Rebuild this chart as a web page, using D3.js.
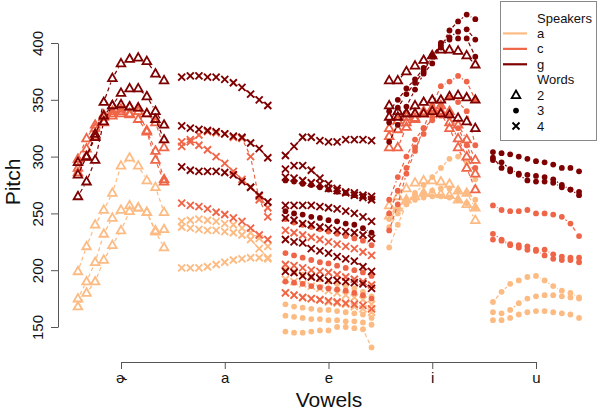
<!DOCTYPE html>
<html><head><meta charset="utf-8">
<script src="https://cdn.jsdelivr.net/npm/d3@7"></script>
<style>body{margin:0;background:#fff}svg{display:block}text{font-family:"Liberation Sans",Arial,sans-serif}</style>
</head><body><svg id="c" width="600" height="412"></svg>
<script>
// ---- data ----
const vowels = ["ɚ","a","e","i","u"];
const speakers = ["a","c","g"];
const speakerColors = ["#FDBB84","#EF6548","#7F0000"];
const words = ["2","3","4"];
const yTicks = [150,200,250,300,350,400];

// vowel ɚ, word 2
const schwa_a_2 = [
 [199,221,240,253,268,292,299,292,279,273,251],
 [175,190,207,232,246,253,257,255,251,235,236],
 [168,180,190,209,222,235,252,255,251,234,220]];
const schwa_c_2 = [
 [298,316,328,337,340,342,344,340,323,305,280],
 [290,307,325,335,338,340,338,333,322,297,278],
 [286,300,318,330,336,338,337,343,338,330,308]];
const schwa_g_2 = [
 [284,300,317,348,369,382,386,387,384,373,367],
 [265,278,297,331,345,356,360,360,353,340,328],
 [295,300,320,336,345,346,344,343,338,333,315]];
// vowel a, word 4
const a_a_4 = [
 [243,244,245,244,243,241,240,237,233,228,221],
 [238,237,236,235,235,234,233,231,227,219,211],
 [202,202,202,203,205,207,209,210,211,211,210]];
const a_c_4 = [
 [313,315,310,306,300,294,287,280,273,265,255],
 [309,313,319,322,321,320,317,316,300,262,247],
 [259,257,256,254,251,249,246,243,237,231,227]];
const a_g_4 = [
 [370,371,371,370,370,368,365,361,355,350,345],
 [327,325,324,323,322,320,318,317,312,307,299],
 [291,288,287,287,287,286,284,278,273,266,260]];
// vowel e, words 3 and 4
const e_a_3 = [
 [146,145,145,146,147,147,150,150,149,148,132],
 [170,168,167,166,165,165,164,163,162,161,158],
 [160,159,158,157,157,156,156,155,155,154,152],
 [200,198,196,194,192,190,188,186,184,181,177]];
const e_a_4 = [
 [180,178,176,175,174,172,171,170,168,166,163],
 [192,190,188,186,184,182,180,178,176,174,170]];
const e_c_3 = [
 [245,242,240,238,236,234,232,230,228,226,222],
 [215,213,211,209,207,206,204,202,200,198,195],
 [190,189,188,186,185,184,183,182,180,178,175]];
const e_c_4 = [
 [235,233,231,229,227,225,223,221,219,216,213],
 [205,204,202,200,199,198,196,194,192,190,187],
 [180,178,176,175,174,173,172,171,170,169,166]];
const e_g_3 = [
 [279,278,276,275,273,271,269,268,266,265,263],
 [252,250,249,247,246,244,243,241,240,237,233]];
const e_g_4 = [
 [301,309,317,317,314,313,313,315,315,315,314],
 [289,292,292,288,281,276,272,269,268,266,265],
 [282,281,279,277,276,272,270,268,266,264,262],
 [257,257,257,257,256,255,254,252,250,247,243],
 [246,244,241,240,238,237,235,234,233,231,228],
 [227,225,224,219,217,215,212,210,208,203,199],
 [199,198,195,194,193,191,191,190,189,188,184]];
// vowel i, words 2 and 3
const i_a_2 = [
 [257,265,272,277,279,279,278,276,270,268,255],
 [248,255,262,265,268,268,267,266,262,258,244]];
const i_a_3 = [
 [220,240,258,268,275,282,290,298,300,295,280],
 [245,255,262,266,268,270,272,272,270,268,262],
 [238,250,258,262,264,265,265,264,262,259,255]];
const i_c_2 = [
 [308,308,326,333,338,343,345,340,328,315,297],
 [318,324,330,334,338,341,340,330,316,300,285],
 [325,332,335,338,340,342,338,325,308,290,271]];
const i_c_3 = [
 [235,258,285,305,325,345,362,366,371,366,350],
 [250,270,290,308,320,335,345,352,348,340,310],
 [262,282,300,315,325,332,336,335,325,310,290]];
const i_g_2 = [
 [367,367,375,380,385,389,394,394,393,389,381],
 [345,340,338,345,348,350,350,353,354,352,350],
 [335,335,338,338,338,340,338,337,334,331,325]];
const i_g_3 = [
 [313,328,344,359,373,382,396,411,419,425,421],
 [330,343,355,365,375,388,400,405,410,412,403],
 [340,350,360,368,378,389,398,403,404,404,388]];
// vowel u, word 3
const u_a_3 = [
 [172,181,188,191,194,195,191,186,182,180,176],
 [163,162,165,171,175,177,178,178,177,176,175],
 [156,156,158,161,163,164,164,163,162,161,158]];
const u_c_3 = [
 [257,253,252,252,253,250,250,249,247,241,230],
 [232,227,223,222,221,218,218,214,212,211,211],
 [227,226,222,220,218,217,213,210,209,209,207]];
const u_g_3 = [
 [304,303,302,300,298,296,295,293,290,290,287],
 [297,295,289,285,284,283,282,280,275,271,269],
 [299,290,287,284,279,278,278,277,273,271,266]];

// table built from the arrays above
const groups = [
 [0,"a","2",schwa_a_2],[0,"c","2",schwa_c_2],[0,"g","2",schwa_g_2],
 [1,"a","4",a_a_4],[1,"c","4",a_c_4],[1,"g","4",a_g_4],
 [2,"a","3",e_a_3],[2,"a","4",e_a_4],[2,"c","3",e_c_3],[2,"c","4",e_c_4],[2,"g","3",e_g_3],[2,"g","4",e_g_4],
 [3,"a","2",i_a_2],[3,"a","3",i_a_3],[3,"c","2",i_c_2],[3,"c","3",i_c_3],[3,"g","2",i_g_2],[3,"g","3",i_g_3],
 [4,"a","3",u_a_3],[4,"c","3",u_c_3],[4,"g","3",u_g_3]];
const contours = [];
groups.forEach(([v,s,w,arr]) => arr.forEach(vals => contours.push({vowel:v,speaker:s,word:w,values:vals})));
contours.sort((p,q)=>speakers.indexOf(p.speaker)-speakers.indexOf(q.speaker));

// ---- scales ----
const svg = d3.select("#c");
const x = d3.scaleLinear().domain([0,4]).range([121,536]);
const t = d3.scaleLinear().domain([0,10]).range([-0.415,0.415]);
const y = d3.scaleLinear().domain([150,400]).range([327,43]);
const color = d3.scaleOrdinal().domain(speakers).range(speakerColors);

// axes
const yAxis = svg.append("g").attr("transform","translate(58,0)")
  .call(d3.axisLeft(y).tickValues(yTicks).tickSize(7).tickSizeOuter(0).tickPadding(4));
yAxis.select(".domain").attr("stroke","#555");
yAxis.selectAll(".tick line").attr("stroke","#555");
yAxis.selectAll(".tick text").attr("font-size",15).attr("fill","#111")
  .attr("text-anchor","middle").attr("x",0).attr("y",0).attr("dy",null)
  .attr("transform","translate(-15,0) rotate(-90)");
const xAxis = svg.append("g").attr("transform","translate(0,362)")
  .call(d3.axisBottom(x).tickValues([0,1,2,3,4]).tickFormat(i=>vowels[i]).tickSize(7).tickSizeOuter(0).tickPadding(3));
xAxis.select(".domain").attr("stroke","#555");
xAxis.selectAll(".tick line").attr("stroke","#555");
xAxis.selectAll(".tick text").attr("font-size",15).attr("fill","#111");

svg.append("text").attr("transform","translate(20,182) rotate(-90)").attr("text-anchor","middle")
  .attr("font-size",21).attr("fill","#111").text("Pitch");
svg.append("text").attr("x",329).attr("y",407).attr("text-anchor","middle")
  .attr("font-size",21).attr("fill","#111").text("Vowels");

// marker shapes
function marker(g, word, cx, cy, col){
  if(word==="2"){
    g.append("path").attr("d",`M${cx},${cy-4.6}L${cx+4.3},${cy+2.9}L${cx-4.3},${cy+2.9}Z`)
      .attr("fill","none").attr("stroke",col).attr("stroke-width",1.8).attr("stroke-linejoin","miter");
  } else if(word==="3"){
    g.append("circle").attr("cx",cx).attr("cy",cy).attr("r",2.9).attr("fill",col);
  } else {
    const r=3.5;
    g.append("path").attr("d",`M${cx-r},${cy-r}L${cx+r},${cy+r}M${cx-r},${cy+r}L${cx+r},${cy-r}`)
      .attr("stroke",col).attr("stroke-width",1.9).attr("fill","none");
  }
}

const plot = svg.append("g");
const gap = 4.5;
contours.forEach(c=>{
  const col = color(c.speaker);
  const g = plot.append("g");
  const pts = c.values.map((v,k)=>[x(c.vowel+t(k)), y(v)]);
  for(let k=0;k<pts.length-1;k++){
    const [x0,y0]=pts[k],[x1,y1]=pts[k+1];
    const L=Math.hypot(x1-x0,y1-y0);
    if(L<=2*gap+0.5) continue;
    const ux=(x1-x0)/L, uy=(y1-y0)/L;
    g.append("line").attr("x1",x0+ux*gap).attr("y1",y0+uy*gap).attr("x2",x1-ux*gap).attr("y2",y1-uy*gap)
      .attr("stroke",col).attr("stroke-width",1.2).attr("stroke-dasharray","4,3");
  }
  pts.forEach(p=>marker(g,c.word,p[0],p[1],col));
});

// legend
const lg = svg.append("g");
lg.append("rect").attr("x",500.5).attr("y",1.5).attr("width",96).attr("height",139)
  .attr("fill","#fff").attr("stroke","#888").attr("stroke-width",1);
const rowY = d3.scaleLinear().domain([0,7]).range([18,126]);
lg.append("text").attr("x",537).attr("y",rowY(0)+4.5).attr("font-size",13).attr("fill","#111").text("Speakers");
speakers.forEach((s,i)=>{
  lg.append("line").attr("x1",503).attr("x2",527).attr("y1",rowY(i+1)).attr("y2",rowY(i+1))
    .attr("stroke",color(s)).attr("stroke-width",2.2);
  lg.append("text").attr("x",537).attr("y",rowY(i+1)+4.5).attr("font-size",13).attr("fill","#111").text(s);
});
lg.append("text").attr("x",537).attr("y",rowY(4)+4.5).attr("font-size",13).attr("fill","#111").text("Words");
words.forEach((w,i)=>{
  marker(lg,w,516,rowY(i+5),"#000");
  lg.append("text").attr("x",537).attr("y",rowY(i+5)+4.5).attr("font-size",13).attr("fill","#111").text(w);
});
</script></body></html>
